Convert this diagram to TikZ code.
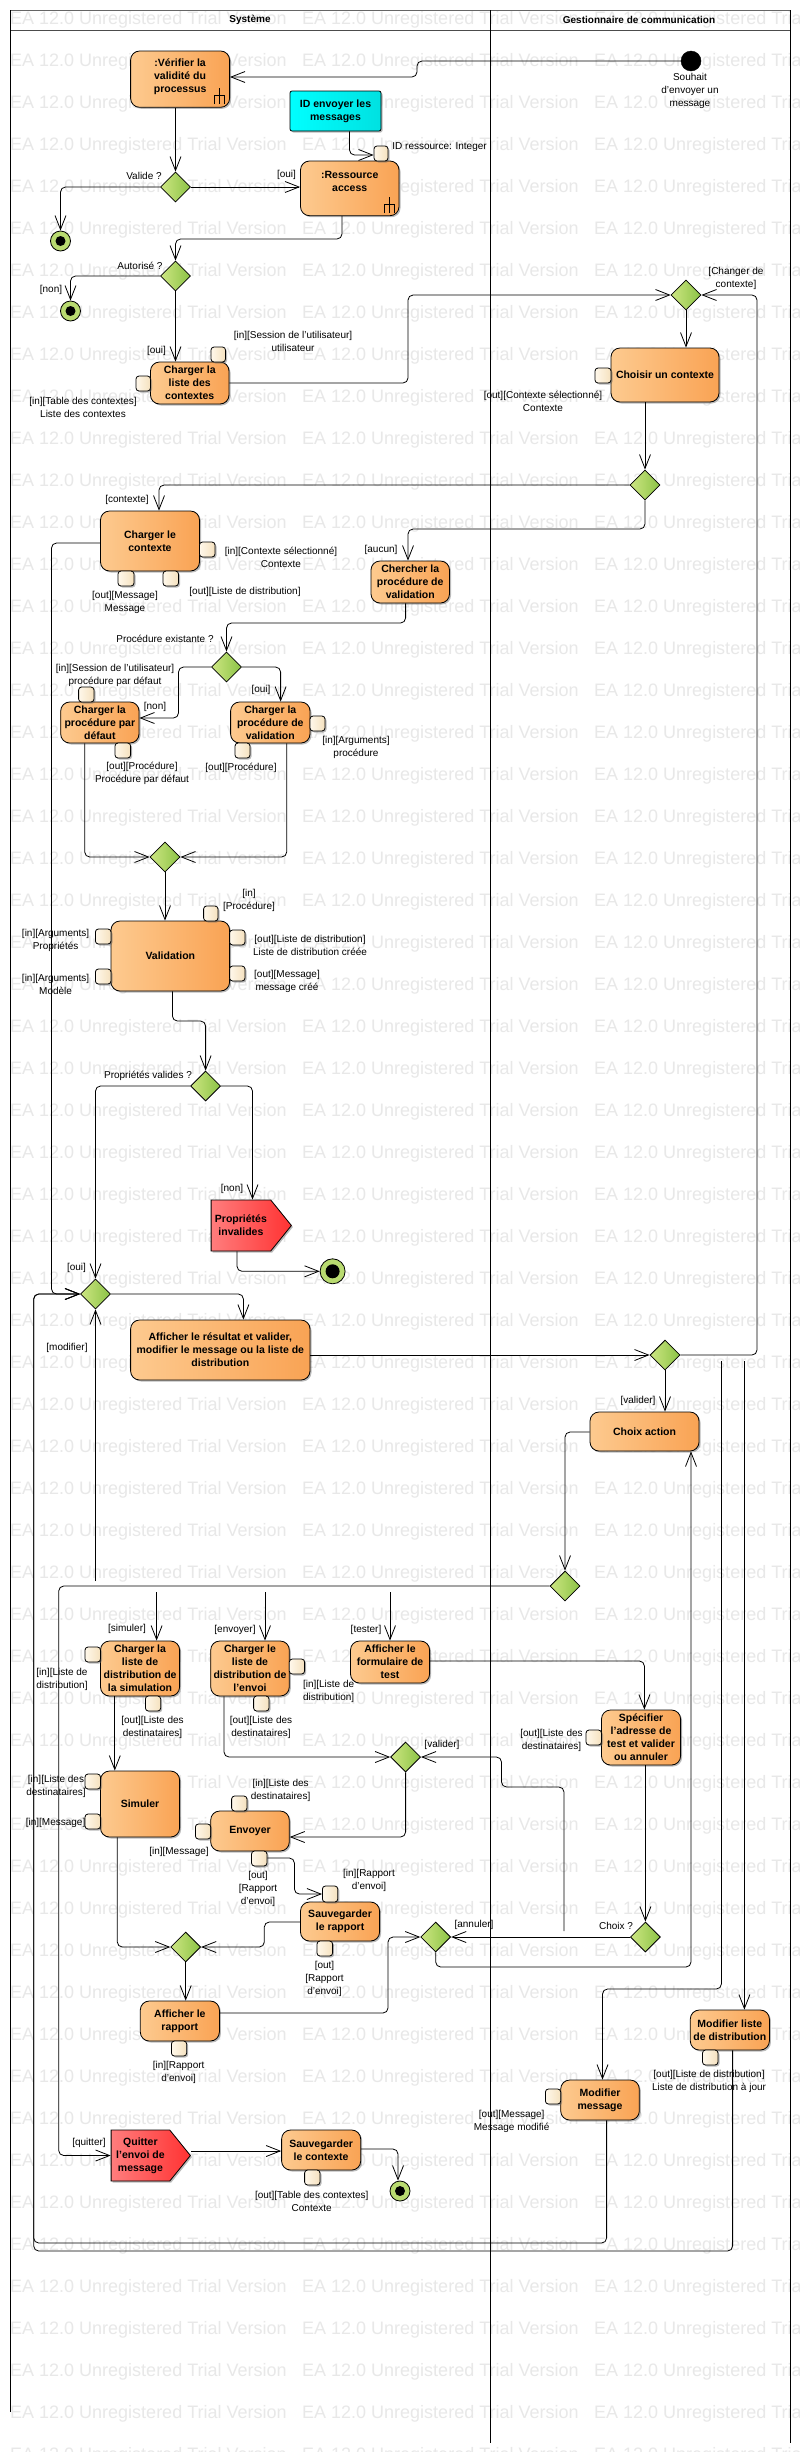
\documentclass[tikz,border=0pt]{standalone}
\usepackage{fontspec}
\setmainfont{Liberation Sans}
\usetikzlibrary{arrows.meta,shapes.geometric,shapes.symbols,shadows}
\definecolor{orL}{RGB}{253,202,143}
\definecolor{orR}{RGB}{249,163,84}
\definecolor{pinL}{RGB}{255,248,235}
\definecolor{pinR}{RGB}{245,225,190}
\definecolor{grL}{RGB}{205,230,130}
\definecolor{grR}{RGB}{140,195,70}
\definecolor{cyL}{RGB}{0,255,255}
\definecolor{cyR}{RGB}{0,225,225}
\definecolor{reL}{RGB}{255,125,125}
\definecolor{reR}{RGB}{255,50,50}
\definecolor{wmgray}{RGB}{232,232,232}
\tikzset{
  softshadow/.style={drop shadow={shadow xshift=1.5pt,shadow yshift=-1.5pt,fill=black!60,opacity=.45}},
  activity/.style={draw=black,line width=0.8pt,rounded corners=9pt,left color=orL,right color=orR,softshadow,inner sep=0pt,align=center,font=\bfseries\fontsize{10.5}{13}\selectfont,execute at begin node={\vspace*{3pt}}},
  objbox/.style={draw=black,line width=0.8pt,rounded corners=2pt,left color=cyL,right color=cyR,softshadow,inner sep=0pt,align=center,font=\bfseries\fontsize{10.5}{13}\selectfont},
  pinbox/.style={draw=black,line width=0.8pt,rounded corners=3pt,left color=pinL,right color=pinR,softshadow,inner sep=0pt},
  decision/.style={diamond,draw=black,line width=0.8pt,left color=grL,right color=grR,inner sep=0pt,minimum width=30pt,minimum height=30pt,shape aspect=1},
  signalbox/.style={signal,signal to=east,signal from=nowhere,signal pointer angle=102,draw=black,line width=0.8pt,left color=reL,right color=reR,softshadow,inner sep=1pt,align=center,font=\bfseries\fontsize{10.5}{13}\selectfont,anchor=west},
  startdot/.style={circle,fill=black,draw=black,inner sep=0pt,minimum size=20pt},
  finaldot/.style={circle,draw=black,line width=0.8pt,fill=grL!70!grR,inner sep=0pt},
  conn/.style={draw=black,line width=0.8pt,rounded corners=5pt,-{Straight Barb[length=14pt,width=11pt,line width=0.8pt]}},
  lab/.style={inner sep=0pt,align=center,font=\fontsize{10}{13}\selectfont},
  wm/.style={anchor=west,inner sep=0pt,text=wmgray,font=\fontsize{18}{20}\selectfont},
  swimtitle/.style={inner sep=0pt,font=\bfseries\fontsize{10}{13}\selectfont},
}
\newcounter{lbc}
\newcommand\lbl[3]{\stepcounter{lbc}\node[lab] (lb\thelbc) at (#1,#2) {#3};}
\newcommand\act[6]{\pgfmathsetmacro\wdv{#4-#2}\pgfmathsetmacro\htv{#5-#3}\pgfmathsetmacro\cxv{(#2+#4)/2}\pgfmathsetmacro\cyv{(#3+#5)/2}\node[activity,minimum width=\wdv pt,minimum height=\htv pt] (#1) at (\cxv,\cyv) {#6};}
\newcommand\pinb[5]{\pgfmathsetmacro\wdv{#4-#2}\pgfmathsetmacro\htv{#5-#3}\pgfmathsetmacro\cxv{(#2+#4)/2}\pgfmathsetmacro\cyv{(#3+#5)/2}\node[pinbox,minimum width=\wdv pt,minimum height=\htv pt] (#1) at (\cxv,\cyv) {};}
\newcommand\dec[3]{\node[decision] (#1) at (#2,#3) {};}
\newcommand\finaln[5]{\node[finaldot,minimum size=#4 pt,path picture={\fill[black] (path picture bounding box.center) circle (#5pt);}] (#1) at (#2,#3) {};}
\newcommand\forkicon[2]{\draw[black,line width=0.7pt] (#1,#2) -- (#1,#2+16) (#1-5,#2+16) -- (#1-5,#2+7) -- (#1+5,#2+7) -- (#1+5,#2+16);}
\begin{document}
\begin{tikzpicture}[x=1pt,y=-1pt]
\useasboundingbox (0,0) rectangle (800,2452);
\fill[white] (0,0) rectangle (800,2452);
\begin{scope}
\clip (0,0) rectangle (800,2452);
\foreach \r in {0,...,58} \foreach \c in {0,1,2}
  \node[wm] (wm\r-\c) at ({10+292*\c},{20+42*\r}) {EA 12.0 Unregistered Trial Version};
\end{scope}
% frame
\draw[black!60,line width=0.8pt] (10,10) -- (790,10);
\draw[black!70,line width=0.8pt] (10,30) -- (790,30);
\draw[black,line width=0.8pt] (10,10) -- (10,2412);
\draw[black,line width=0.8pt] (490,10) -- (490,2443);
\draw[black,line width=0.8pt] (790,10) -- (790,2443);
\node[swimtitle] (tsys) at (250,20) {Système};
\node[swimtitle] (tges) at (639,20) {Gestionnaire de communication};
% nodes
\node[startdot] (init) at (691,61) {};
\act{va}{130.6}{51}{229.6}{107.3}{:Vérifier la\\validité du\\processus\\[-6pt]~}
\forkicon{219.5}{88}
\node[objbox,minimum width=91pt,minimum height=40pt] (obj) at (335.5,111) {ID envoyer les\\messages};
\act{res}{300.5}{161}{399}{215.7}{:Ressource\\access\\~}
\forkicon{389.5}{197}
\pinb{pres}{374}{146}{388}{161}
\dec{d1}{175.5}{187}
\finaln{f1}{60.5}{241}{20}{5}
\dec{d2}{175.5}{276}
\finaln{f2}{70.5}{311}{20}{5}
\act{cl}{150.5}{362}{229}{404}{Charger la\\liste des\\contextes}
\pinb{pcl1}{211}{347}{225.5}{362}
\pinb{pcl2}{136}{376}{150.5}{391}
\dec{d3}{686}{295}
\act{ch}{611}{348}{719}{402}{Choisir un contexte}
\pinb{pch}{595}{368}{611}{383}
\dec{d4}{645}{485}
\act{cc}{100.5}{511}{199.5}{571}{Charger le\\contexte}
\pinb{pcc1}{199.5}{542}{215}{557}
\pinb{pcc2}{118}{571}{134}{586}
\pinb{pcc3}{163}{571}{178.5}{586}
\act{ce}{371}{561}{449.5}{603}{Chercher la\\procédure de\\validation}
\dec{d5}{226.5}{667}
\act{cd}{60.7}{702}{139}{743}{Charger la\\procédure par\\défaut}
\pinb{pcd1}{78.6}{687}{94}{702}
\pinb{pcd2}{115}{743}{130.6}{758}
\act{cv}{230.6}{702}{310}{743}{Charger la\\procédure de\\validation}
\pinb{pcv1}{310}{716}{325}{731}
\pinb{pcv2}{235}{743}{250}{758}
\dec{d6}{165}{857}
\act{val}{111}{921}{229.6}{991}{Validation}
\pinb{pv1}{203.6}{906}{218}{921}
\pinb{pv2}{95.4}{929}{111}{944}
\pinb{pv3}{95.4}{969}{111}{984}
\pinb{pv4}{229.6}{930}{245}{945}
\pinb{pv5}{229.6}{966}{245}{981}
\dec{d8}{205.6}{1086}
\node[signalbox,minimum width=80.3pt,minimum height=51pt] (pi) at (210.7,1225.5) {Propriétés\\invalides};
\finaln{f3}{332.6}{1271.3}{25}{7}
\dec{d7}{95.5}{1294}
\act{af}{130.6}{1320}{310}{1380}{Afficher le résultat et valider,\\modifier le message ou la liste de\\distribution}
\dec{d9}{665}{1355}
\act{ca}{590}{1412}{699}{1451}{Choix action}
\dec{d10}{565}{1586}
\act{cs}{100.5}{1641}{179.6}{1696}{Charger la\\liste de\\distribution de\\la simulation}
\pinb{pcs1}{85}{1647}{100.5}{1662}
\pinb{pcs2}{145.4}{1696}{160.7}{1711}
\act{cn}{210.7}{1641}{289.3}{1696}{Charger le\\liste de\\distribution de\\l'envoi}
\pinb{pcn1}{289.3}{1659}{304.6}{1674}
\pinb{pcn2}{253.6}{1696}{269}{1711}
\act{cf}{350.5}{1641}{429.6}{1683}{Afficher le\\formulaire de\\test}
\act{sp}{601.5}{1710}{680.6}{1765}{Spécifier\\l'adresse de\\test et valider\\ou annuler}
\pinb{psp}{586}{1730}{601.5}{1745}
\dec{d13}{405.6}{1757}
\act{si}{100.5}{1771}{179.6}{1837}{Simuler}
\pinb{psi1}{85}{1774}{100.5}{1789}
\pinb{psi2}{85}{1814}{100.5}{1829}
\act{ev}{210.7}{1811}{289.3}{1851}{Envoyer}
\pinb{pev1}{231.6}{1796}{247}{1811}
\pinb{pev2}{195.4}{1824}{210.7}{1839}
\pinb{pev3}{251.5}{1851}{267}{1866}
\act{sr}{300.5}{1902}{379.6}{1941}{Sauvegarder\\le rapport}
\pinb{psr1}{322.4}{1886}{337.8}{1902}
\pinb{psr2}{317}{1941}{332.6}{1956}
\dec{d11}{435.7}{1937}
\dec{d12}{645.4}{1937}
\dec{d14}{185.7}{1947}
\act{ar}{140.3}{2001}{219.4}{2041}{Afficher le\\rapport}
\pinb{par}{171.4}{2041}{186.7}{2056}
\act{ml}{690.3}{2010}{769.4}{2050}{Modifier liste\\de distribution}
\pinb{pml}{702.5}{2050}{718}{2065}
\act{mm}{560.7}{2080}{639.3}{2120}{Modifier\\message}
\pinb{pmm}{545.4}{2089}{560.7}{2104}
\node[signalbox,minimum width=79.3pt,minimum height=51pt] (qu) at (110.7,2155.5) {Quitter\\l'envoi de\\message};
\act{sc}{281.6}{2130}{360.7}{2170}{Sauvegarder\\le contexte}
\pinb{psc}{304.6}{2170}{320}{2185}
\finaln{f4}{400}{2191}{20}{5}
% free ends
\coordinate (csim) at (156.6,1592);
\coordinate (cenv) at (265,1592);
\coordinate (ctes) at (390,1592);
\coordinate (cmod) at (95.5,1581);
\coordinate (cval) at (564,1931);
\coordinate (cchg) at (721.4,1361);
\coordinate (clst) at (744.4,1361);
% connectors
\draw[conn] (init.west) -- (417,61) -- (417,77) -- (va.east |- 0,77);
\draw[conn] (va.south -| 175.5,0) -- (d1.north);
\draw[conn] (d1.east) -- (res.west |- d1.east);
\draw[conn] (d1.west) -- (f1.north |- d1.west) -- (f1.north);
\draw[conn] (obj.south -| 349.5,0) -- (349.5,155) -- (pres.west |- 0,155);
\draw[conn] (res.south -| 342,0) -- (342,239) -- (175.5,239) -- (d2.north);
\draw[conn] (d2.west) -- (f2.north |- d2.west) -- (f2.north);
\draw[conn] (d2.south) -- (cl.north -| 175.5,0);
\draw[conn] (cl.east |- 0,383) -- (408,383) -- (408,295) -- (d3.west);
\draw[conn] (d9.east) -- (757,1355) -- (757,295) -- (d3.east);
\draw[conn] (d3.south) -- (ch.north -| 686,0);
\draw[conn] (ch.south -| 645,0) -- (d4.north);
\draw[conn] (d4.west) -- (159,485) -- (cc.north -| 159,0);
\draw[conn] (d4.south) -- (645,529) -- (408,529) -- (ce.north -| 408,0);
\draw[conn] (cc.west |- 0,543) -- (51.5,543) -- (51.5,1294) -- (d7.west);
\draw[conn] (ce.south -| 405.6,0) -- (405.6,623) -- (226.5,623) -- (d5.north);
\draw[conn] (d5.west) -- (178.5,667) -- (178.5,718) -- (cd.east |- 0,718);
\draw[conn] (d5.east) -- (280.6,667) -- (cv.north -| 280.6,0);
\draw[conn] (cd.south -| 84.7,0) -- (84.7,857) -- (d6.west);
\draw[conn] (cv.south -| 286.7,0) -- (286.7,857) -- (d6.east);
\draw[conn] (d6.south) -- (val.north -| 165,0);
\draw[conn] (val.south -| 172.4,0) -- (172.4,1021) -- (205.6,1021) -- (d8.north);
\draw[conn] (d8.west) -- (95.5,1086) -- (d7.north);
\draw[conn] (d8.east) -- (252.5,1086) -- (pi.north -| 252.5,0);
\draw[conn] (pi.south -| 237,0) -- (237,1271.3) -- (f3.west);
\draw[conn] (d7.east) -- (243.4,1294) -- (af.north -| 243.4,0);
\draw[conn] (af.east |- 0,1355) -- (d9.west);
\draw[conn] (d9.south) -- (ca.north -| 665,0);
\draw[conn] (ca.west |- 0,1432) -- (565,1432) -- (d10.north);
\draw[conn] (d10.west) -- (58.7,1586) -- (58.7,2155.5) -- (qu.west);
\draw[conn] (csim) -- (cs.north -| csim);
\draw[conn] (cenv) -- (cn.north -| cenv);
\draw[conn] (ctes) -- (cf.north -| ctes);
\draw[conn] (cmod) -- (d7.south);
\draw[conn] (cf.east |- 0,1661) -- (644.4,1661) -- (sp.north -| 644.4,0);
\draw[conn] (sp.south -| 645.4,0) -- (d12.north);
\draw[conn] (d12.west) -- (d11.east);
\draw[conn] (d11.south) -- (435.7,1967) -- (691,1967) -- (ca.south -| 691,0);
\draw[conn] (cval) -- (564,1787) -- (501.5,1787) -- (501.5,1757) -- (d13.east);
\draw[conn] (cn.south -| 224,0) -- (224,1757) -- (d13.west);
\draw[conn] (d13.south) -- (405.6,1837) -- (ev.east |- 0,1837);
\draw[conn] (pev3.east |- 0,1858) -- (294.4,1858) -- (294.4,1894) -- (psr1.west |- 0,1894);
\draw[conn] (cs.south -| 114.8,0) -- (si.north -| 114.8,0);
\draw[conn] (si.south -| 117.3,0) -- (117.3,1947) -- (d14.west);
\draw[conn] (sr.west |- 0,1922) -- (264.3,1922) -- (264.3,1947) -- (d14.east);
\draw[conn] (d14.south) -- (ar.north -| 185.7,0);
\draw[conn] (ar.east |- 0,2013) -- (388,2013) -- (388,1937) -- (d11.west);
\draw[conn] (cchg) -- (721.4,1989) -- (602.5,1989) -- (mm.north -| 602.5,0);
\draw[conn] (clst) -- (ml.north -| clst);
\draw[conn] (mm.south -| 606.6,0) -- (606.6,2243) -- (33.7,2243) -- (33.7,1294) -- (d7.west);
\draw[conn] (ml.south -| 732.6,0) -- (732.6,2251) -- (33.7,2251) -- (33.7,1294) -- (d7.west);
\draw[conn] (qu.east |- 0,2151) -- (sc.west |- 0,2151);
\draw[conn] (sc.east |- 0,2149) -- (398,2149) -- (f4.north -| 398,0);
% labels
\lbl{690}{91}{Souhait\\d'envoyer un\\message}
\lbl{439.6}{147}{ID ressource: Integer}
\lbl{144}{176}{Valide ?}
\lbl{286.5}{175}{[oui]}
\lbl{140}{266}{Autorisé ?}
\lbl{51}{290}{[non]}
\lbl{736}{278.5}{[Changer de\\contexte]}
\lbl{293}{341.5}{[in][Session de l'utilisateur]\\utilisateur}
\lbl{156.5}{351}{[oui]}
\lbl{83}{407.5}{[in][Table des contextes]\\Liste des contextes}
\lbl{543}{401.5}{[out][Contexte sélectionné]\\Contexte}
\lbl{127}{500}{[contexte]}
\lbl{281}{557.5}{[in][Contexte sélectionné]\\Contexte}
\lbl{245}{592}{[out][Liste de distribution]}
\lbl{125}{602.5}{[out][Message]\\Message}
\lbl{381}{550}{[aucun]}
\lbl{165}{639}{Procédure existante ?}
\lbl{115}{675.5}{[in][Session de l'utilisateur]\\procédure par défaut}
\lbl{155}{707}{[non]}
\lbl{261}{690}{[oui]}
\lbl{142}{773.5}{[out][Procédure]\\Procédure par défaut}
\lbl{241}{768}{[out][Procédure]}
\lbl{356}{747.5}{[in][Arguments]\\procédure}
\lbl{249}{900.5}{[in]\\{}[Procédure]}
\lbl{55.6}{940.5}{[in][Arguments]\\Propriétés}
\lbl{55.6}{984.5}{[in][Arguments]\\Modèle}
\lbl{310}{945.5}{[out][Liste de distribution]\\Liste de distribution créée}
\lbl{287}{981.5}{[out][Message]\\message créé}
\lbl{148}{1076}{Propriétés valides ?}
\lbl{232}{1189}{[non]}
\lbl{76.5}{1268}{[oui]}
\lbl{67}{1348}{[modifier]}
\lbl{638}{1401}{[valider]}
\lbl{127}{1629}{[simuler]}
\lbl{235}{1630}{[envoyer]}
\lbl{366}{1630}{[tester]}
\lbl{62}{1679.5}{[in][Liste de\\distribution]}
\lbl{328.6}{1691.5}{[in][Liste de\\distribution]}
\lbl{152.5}{1727.5}{[out][Liste des\\destinataires]}
\lbl{261}{1727.5}{[out][Liste des\\destinataires]}
\lbl{551.5}{1740.5}{[out][Liste des\\destinataires]}
\lbl{442}{1745}{[valider]}
\lbl{56}{1786.5}{[in][Liste des\\destinataires]}
\lbl{280.6}{1790.5}{[in][Liste des\\destinataires]}
\lbl{55.6}{1823}{[in][Message]}
\lbl{179}{1852}{[in][Message]}
\lbl{258}{1889}{[out]\\{}[Rapport\\d'envoi]}
\lbl{369}{1880.5}{[in][Rapport\\d'envoi]}
\lbl{616}{1926}{Choix ?}
\lbl{474}{1925}{[annuler]}
\lbl{324.5}{1979}{[out]\\{}[Rapport\\d'envoi]}
\lbl{178.6}{2072.5}{[in][Rapport\\d'envoi]}
\lbl{709}{2081.5}{[out][Liste de distribution]\\Liste de distribution à jour}
\lbl{511.7}{2121.5}{[out][Message]\\Message modifié}
\lbl{89}{2143}{[quitter]}
\lbl{311.7}{2201.5}{[out][Table des contextes]\\Contexte}
\end{tikzpicture}
\end{document}
